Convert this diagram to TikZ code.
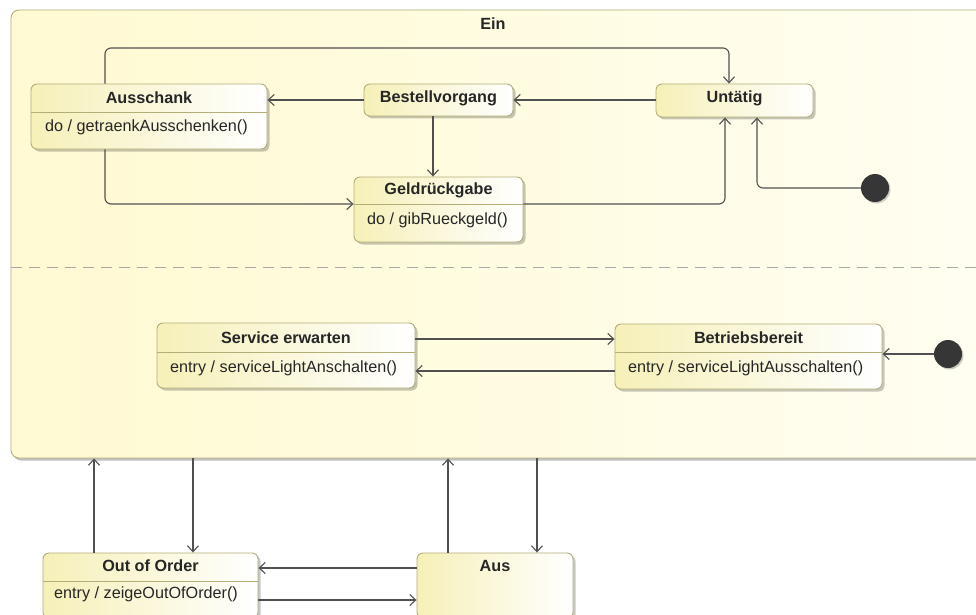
\documentclass[tikz,border=0pt]{standalone}
\usepackage{fontspec}
\setmainfont{Liberation Sans}
\usetikzlibrary{arrows.meta,shadows}

\definecolor{edgecol}{HTML}{505050}
\definecolor{boxline}{HTML}{B3AE78}
\definecolor{stateleft}{HTML}{F6F0B8}
\definecolor{einleft}{HTML}{FFFAD2}
\definecolor{einright}{HTML}{FFFEF1}
\definecolor{dotcol}{HTML}{363636}
\definecolor{dashcol}{HTML}{A8A8A8}

\tikzset{
  statebox/.style={draw=boxline, line width=0.9pt, rounded corners=6pt,
    left color=stateleft, right color=white, inner sep=0pt,
    drop shadow={shadow xshift=2.5pt, shadow yshift=-2.5pt, opacity=0.22, fill=black}},
  regionbox/.style={draw=boxline, line width=0.9pt, rounded corners=8pt,
    left color=einleft, right color=einright, inner sep=0pt,
    drop shadow={shadow xshift=2pt, shadow yshift=-2.5pt, opacity=0.25, fill=black}},
  divider/.style={draw=boxline, line width=0.8pt},
  titletext/.style={font=\fontsize{16.2}{19}\selectfont\bfseries, text=black!85, inner sep=0pt},
  bodytext/.style={font=\fontsize{16.2}{19}\selectfont, text=black!85, inner sep=0pt, anchor=west},
  edge/.style={draw=edgecol, line width=1.1pt, rounded corners=6pt,
    -{Straight Barb[length=6pt, width=11pt, line width=1.1pt]}},
  initdot/.style={circle, fill=dotcol, minimum size=28pt, inner sep=0pt,
    drop shadow={shadow xshift=1.5pt, shadow yshift=-1.5pt, opacity=0.2, fill=black}},
}

\begin{document}
\begin{tikzpicture}[x=1pt, y=-1pt]
  \useasboundingbox (0,0) rectangle (976,615);
  \clip (0,0) rectangle (976,615);
  \fill[white] (0,0) rectangle (976,615);

  % composite state "Ein"
  \node[regionbox, minimum width=979pt, minimum height=448pt] (ein) at (500.5,234) {};
  \node[titletext] (ein-title) at (493,24) {Ein};

  % region separator
  \draw[dashcol, line width=0.9pt, dash pattern=on 11pt off 7pt] (11,267) -- (976,267);

  % upper region
  \node[statebox, minimum width=236pt, minimum height=65pt] (ausschank) at (149,116.5) {};
  \draw[divider] (31,112) -- (267,112);
  \node[titletext] (ausschank-title) at (149,97.5) {Ausschank};
  \node[bodytext] (ausschank-body) at (45,127) {do / getraenkAusschenken()};

  \node[statebox, minimum width=149pt, minimum height=32pt] (bestell) at (438.5,100) {};
  \node[titletext] (bestell-title) at (438.5,98.5) {Bestellvorgang};

  \node[statebox, minimum width=157pt, minimum height=33pt] (untatig) at (734.5,100.5) {};
  \node[titletext] (untatig-title) at (734.5,98.5) {Untätig};

  \node[statebox, minimum width=169pt, minimum height=65pt] (geld) at (438.5,209.5) {};
  \draw[divider] (354,204) -- (523,204);
  \node[titletext] (geld-title) at (438.5,190.5) {Geldrückgabe};
  \node[bodytext] (geld-body) at (367,220) {do / gibRueckgeld()};

  \node[initdot] (init1) at (875,188) {};

  % lower region
  \node[statebox, minimum width=258pt, minimum height=65pt] (service) at (286,355.5) {};
  \draw[divider] (157,352) -- (415,352);
  \node[titletext] (service-title) at (286,337.5) {Service erwarten};
  \node[bodytext] (service-body) at (170,368) {entry / serviceLightAnschalten()};

  \node[statebox, minimum width=267pt, minimum height=65pt] (betrieb) at (748.5,356.5) {};
  \draw[divider] (615,352) -- (882,352);
  \node[titletext] (betrieb-title) at (748.5,337.5) {Betriebsbereit};
  \node[bodytext] (betrieb-body) at (628,368) {entry / serviceLightAusschalten()};

  \node[initdot] (init2) at (948,354) {};

  % states outside "Ein"
  \node[statebox, minimum width=215pt, minimum height=65pt] (ooo) at (150.5,585.5) {};
  \draw[divider] (43,581) -- (258,581);
  \node[titletext] (ooo-title) at (150.5,565.5) {Out of Order};
  \node[bodytext] (ooo-body) at (54,594) {entry / zeigeOutOfOrder()};

  \node[statebox, minimum width=156pt, minimum height=65pt] (aus) at (495,585.5) {};
  \node[titletext] (aus-title) at (495,565.5) {Aus};

  % transitions, upper region
  \draw[edge] (ausschank.north -| 105,0) -- (105,48) -- (729,48) -- (untatig.north -| 729,0);
  \draw[edge] (bestell.west) -- (ausschank.east |- bestell.west);
  \draw[edge] (untatig.west |- 0,100) -- (bestell.east |- 0,100);
  \draw[edge] (bestell.south -| 433,0) -- (geld.north -| 433,0);
  \draw[edge] (ausschank.south -| 105,0) -- (105,204) -- (geld.west |- 0,204);
  \draw[edge] (geld.east |- 0,204) -- (725,204) -- (untatig.south -| 725,0);
  \draw[edge] (init1.west) -- (757,188) -- (untatig.south -| 757,0);

  % transitions, lower region
  \draw[edge] (service.east |- 0,339) -- (betrieb.west |- 0,339);
  \draw[edge] (betrieb.west |- 0,371) -- (service.east |- 0,371);
  \draw[edge] (init2.west) -- (betrieb.east |- init2.west);

  % transitions between top-level states
  \draw[edge] (ooo.north -| 94,0) -- (ein.south -| 94,0);
  \draw[edge] (ein.south -| 193,0) -- (ooo.north -| 193,0);
  \draw[edge] (aus.north -| 448,0) -- (ein.south -| 448,0);
  \draw[edge] (ein.south -| 537,0) -- (aus.north -| 537,0);
  \draw[edge] (aus.west |- 0,568) -- (ooo.east |- 0,568);
  \draw[edge] (ooo.east |- 0,600) -- (aus.west |- 0,600);
\end{tikzpicture}
\end{document}
